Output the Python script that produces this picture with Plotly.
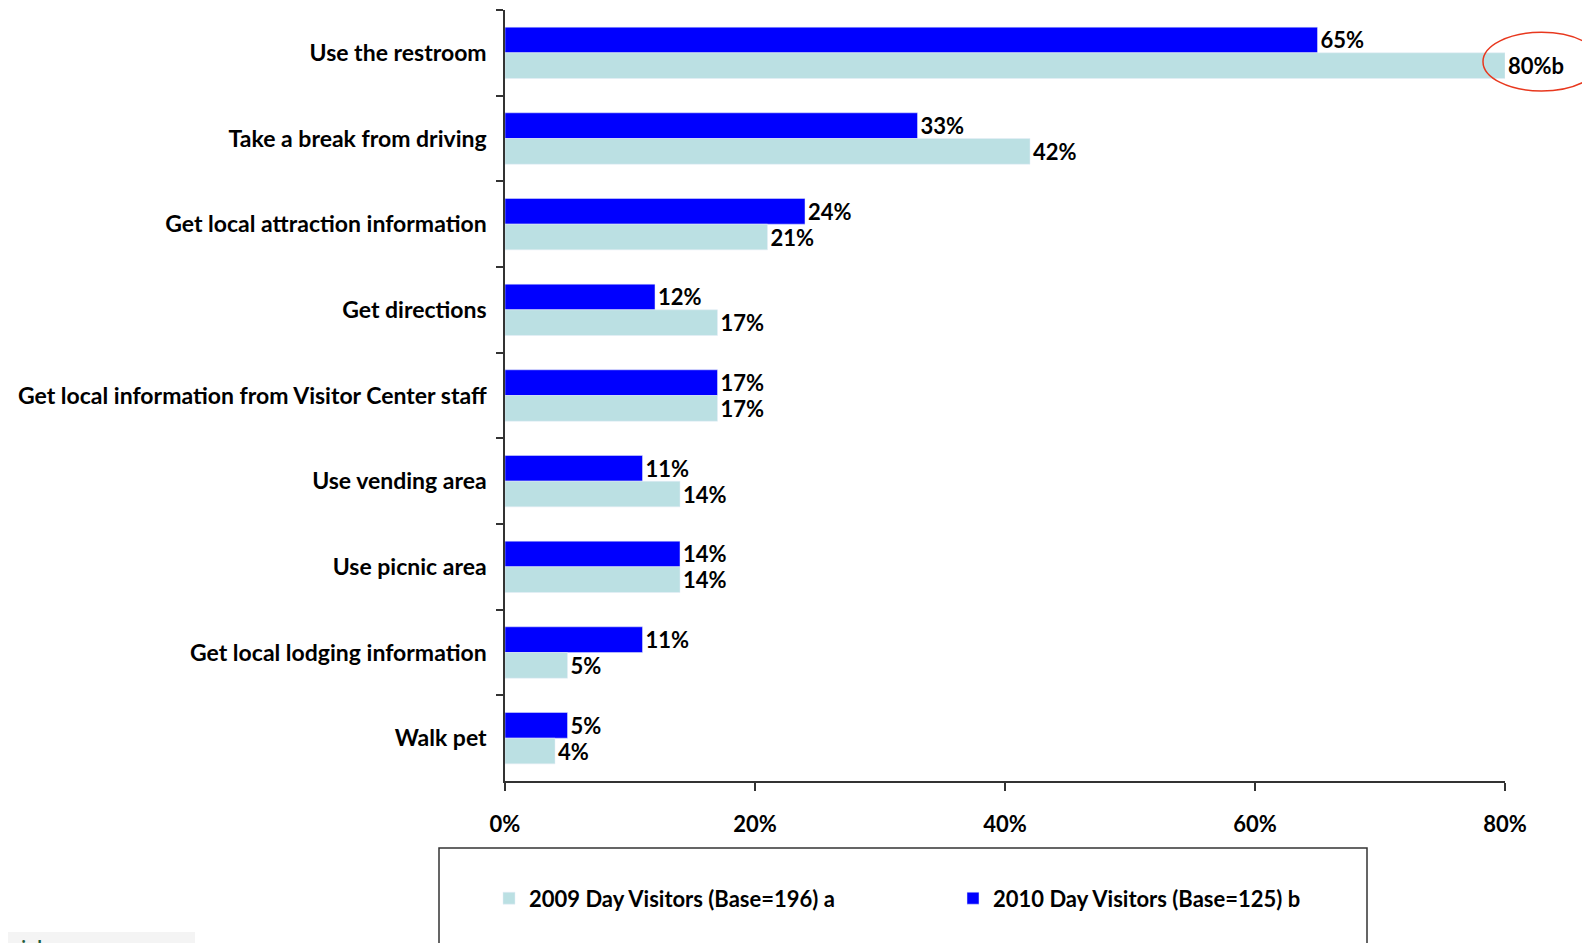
import plotly.graph_objects as go

categories = [
    "Use the restroom",
    "Take a break from driving",
    "Get local attraction information",
    "Get directions",
    "Get local information from Visitor Center staff",
    "Use vending area",
    "Use picnic area",
    "Get local lodging information",
    "Walk pet",
]
visitors_2009 = [80, 42, 21, 17, 17, 14, 14, 5, 4]
visitors_2010 = [65, 33, 24, 12, 17, 11, 14, 11, 5]
sig_2009 = ["b", "", "", "", "", "", "", "", ""]
x_ticks = [0, 20, 40, 60, 80]
x_tick_labels = ["0%", "20%", "40%", "60%", "80%"]

FONT = "Lato, sans-serif"
LIGHT = "#BBE0E3"
BLUE = "#0000FF"
AXIS = "#333333"

fig = go.Figure()
fig.add_trace(go.Bar(
    name="2010 Day Visitors (Base=125) b",
    y=categories, x=visitors_2010, orientation="h",
    marker_color=BLUE,
    text=[f"{v}%" for v in visitors_2010],
    textposition="outside", constraintext="none", cliponaxis=False,
    textfont=dict(family=FONT, size=22, color="black", weight="bold"),
))
fig.add_trace(go.Bar(
    name="2009 Day Visitors (Base=196) a",
    y=categories, x=visitors_2009, orientation="h",
    marker_color=LIGHT,
    text=[f"{v}%{s}" for v, s in zip(visitors_2009, sig_2009)],
    textposition="outside", constraintext="none", cliponaxis=False,
    textfont=dict(family=FONT, size=22, color="black", weight="bold"),
))

# highlight around the significant value
fig.add_shape(type="circle", xref="paper", yref="paper",
              x0=0.978, x1=1.095, y0=0.895, y1=0.971,
              line=dict(color="#E8381E", width=1.5))
# legend frame
fig.add_shape(type="rect", xref="paper", yref="paper",
              x0=-0.066, x1=0.862, y0=-0.087, y1=-0.26,
              line=dict(color=AXIS, width=1.5))
# stray footer fragment
fig.add_shape(type="rect", xref="paper", yref="paper",
              x0=-0.505, x1=-0.31, y0=-0.196, y1=-0.21,
              line_width=0, fillcolor="#F4F4F4", layer="below")
fig.add_annotation(text="videos", xref="paper", yref="paper",
                   x=-0.5, y=-0.192, xanchor="left", yanchor="top",
                   showarrow=False,
                   font=dict(family="Noto Sans", size=26, color="#1E5C3C"))

fig.update_layout(
    width=1590, height=943,
    margin=dict(l=497, r=93, t=2, b=170, autoexpand=False),
    plot_bgcolor="white", paper_bgcolor="white",
    barmode="group", bargap=0.4, bargroupgap=0,
    font=dict(family=FONT, color="black"),
    xaxis=dict(
        range=[0, 80], tickvals=x_ticks, ticktext=x_tick_labels,
        showgrid=False, zeroline=False, showline=True, automargin=False,
        linecolor=AXIS, linewidth=1.5,
        ticks="outside", ticklen=8, tickcolor=AXIS, tickwidth=1.5,
        ticklabelstandoff=15,
        tickfont=dict(family=FONT, size=22, weight="bold"),
    ),
    yaxis=dict(
        autorange="reversed", showgrid=False, zeroline=False, automargin=False,
        showline=True, linecolor=AXIS, linewidth=1.5,
        ticks="outside", ticklen=7, tickcolor=AXIS, tickwidth=1.5,
        tickson="boundaries", ticklabelstandoff=12,
        tickfont=dict(family=FONT, size=23, weight="bold"),
    ),
    legend=dict(
        orientation="h", traceorder="reversed",
        x=-0.016, xanchor="left", y=-0.125, yanchor="top",
        entrywidth=419, entrywidthmode="pixels",
        font=dict(family=FONT, size=22, weight="bold"),
        bgcolor="rgba(0,0,0,0)",
    ),
)

fig.write_html("out.html")
